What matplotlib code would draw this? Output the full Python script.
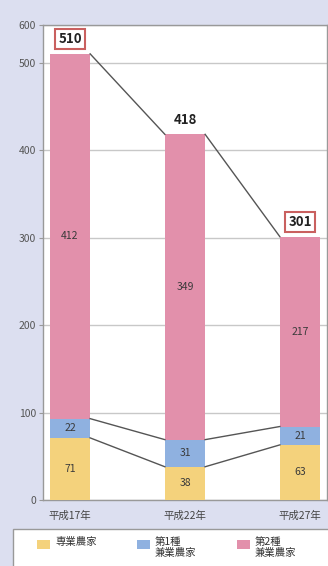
import matplotlib
matplotlib.use("Agg")
import matplotlib.pyplot as plt
from matplotlib.patches import Rectangle

plt.rcParams["font.family"] = ["Noto Sans CJK JP", "DejaVu Sans"]

years = ["平成17年", "平成22年", "平成27年"]
sengyo = [71, 38, 63]       # 専業農家
dai1 = [22, 31, 21]         # 第1種兼業農家
dai2 = [412, 349, 217]      # 第2種兼業農家
totals = [510, 418, 301]
boxed = [True, False, True]

legendLabels = ["専業農家", "第1種\n兼業農家", "第2種\n兼業農家"]

colYellow = "#f4d27c"
colBlue = "#8fb1e0"
colPink = "#e290ab"
colBack = "#dcdff0"

W, H = 328, 566
fig = plt.figure(figsize=(W / 100, H / 100), dpi=100)
fig.patch.set_facecolor(colBack)

# plot area in pixels: x 43..327, y 25..500
ax = fig.add_axes([43 / W, 1 - 500 / H, 284 / W, 475 / H])
ax.set_facecolor("white")

x = list(range(len(years)))
width = 0.35

ax.bar(x, totals, width, color=colPink, zorder=2)
ax.bar(x, dai1, width, bottom=sengyo, color=colBlue, zorder=3)
ax.bar(x, sengyo, width, color=colYellow, zorder=4)

# connecting lines between the bars
for i in range(len(x) - 1):
    x0 = x[i] + width / 2
    x1 = x[i + 1] - width / 2
    ax.plot([x0, x1], [totals[i], totals[i + 1]], color="#555555", lw=1.0, zorder=5)
    ax.plot([x0, x1], [sengyo[i] + dai1[i], sengyo[i + 1] + dai1[i + 1]], color="#555555", lw=1.0, zorder=5)
    ax.plot([x0, x1], [sengyo[i], sengyo[i + 1]], color="#555555", lw=1.0, zorder=5)

# segment labels
for i in range(len(x)):
    ax.text(x[i], sengyo[i] / 2, str(sengyo[i]), ha="center", va="center", fontsize=7.5, color="#3a3a3a", zorder=6)
    ax.text(x[i], sengyo[i] + dai1[i] / 2, str(dai1[i]), ha="center", va="center", fontsize=7.5, color="#3a3a3a", zorder=6)
    mid = (sengyo[i] + dai1[i] + totals[i]) / 2
    ax.text(x[i], mid, str(dai2[i]), ha="center", va="center", fontsize=7.5, color="#3a3a3a", zorder=6)

    if boxed[i]:
        bbox = dict(boxstyle="square,pad=0.22", fc="white", ec="#c9605f", lw=1.5)
    else:
        bbox = None
    ax.annotate(str(totals[i]), (x[i], totals[i]), xytext=(0, 10.5), textcoords="offset points",
                ha="center", va="center", fontsize=9.5, fontweight="bold", color="#222222",
                bbox=bbox, zorder=7)

ax.set_ylim(0, 543)
ax.set_xlim(-0.235, 2.235)
ax.set_yticks([0, 100, 200, 300, 400, 500, 543])
ax.set_yticklabels(["0", "100", "200", "300", "400", "500", "600"])
ax.set_xticks(x)
ax.set_xticklabels(years)
ax.tick_params(axis="y", length=3, labelsize=7.5, labelcolor="#555555", color="#999999", pad=2)
ax.tick_params(axis="x", length=0, labelsize=7.5, labelcolor="#444444", pad=8)
ax.grid(axis="y", color="#c8c8c8", lw=1.0, zorder=0)
ax.set_axisbelow(True)
for s in ax.spines.values():
    s.set_color("#999999")
    s.set_linewidth(1.0)

# legend box
fig.patches.append(Rectangle((13 / W, 1 - 580 / H), 330 / W, 51 / H, transform=fig.transFigure,
                             fc="white", ec="#999999", lw=1.0))
colors = [colYellow, colBlue, colPink]
for k in range(len(legendLabels)):
    px = 37 + 100 * k
    fig.patches.append(Rectangle((px / W, 1 - 549 / H), 13 / W, 9 / H, transform=fig.transFigure,
                                 fc=colors[k], ec="none"))
    fig.text((px + 18) / W, 1 - 537 / H, legendLabels[k], ha="left", va="top", fontsize=7.5,
             color="#333333", linespacing=1.15)

fig.savefig("out.png", dpi=100, facecolor=colBack)
